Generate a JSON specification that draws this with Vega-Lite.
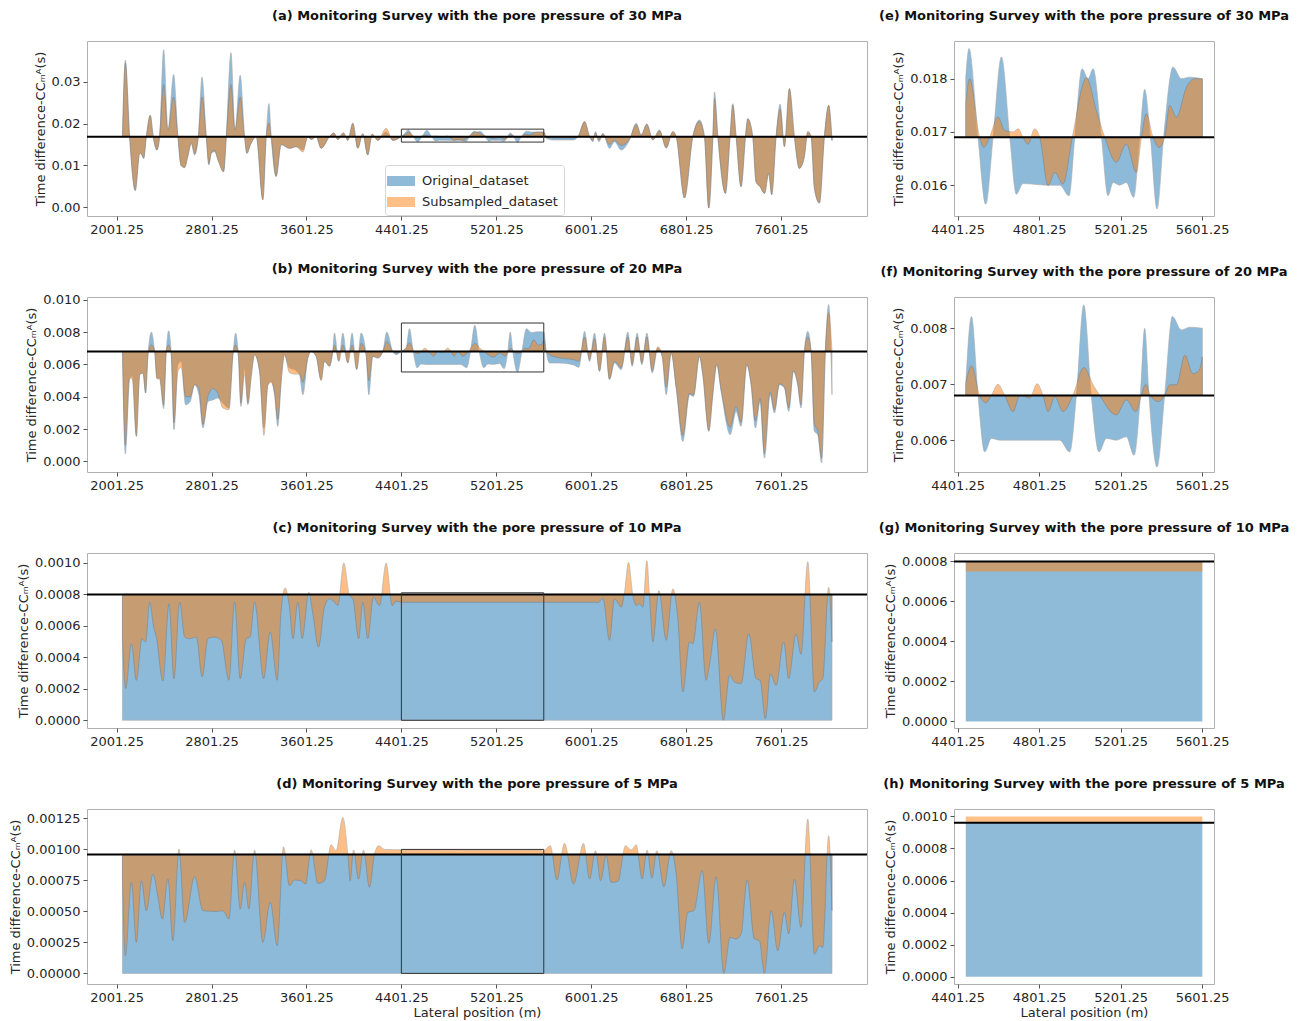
{
"$schema":"https://vega.github.io/schema/vega-lite/v6.json",
"background":"white",
"padding":{"left":8,"top":9,"right":5,"bottom":5},
"config":{
 "font":"DejaVu Sans",
 "view":{"stroke":"#b0b0b0","strokeWidth":1},
 "axis":{"domain":false,"grid":false,"tickColor":"#555","tickSize":4,"labelFontSize":13,"labelColor":"#262626","titleFontSize":13,"titleFontWeight":"normal","titleColor":"#262626","labelPadding":3,"labelFlush":false,"labelOverlap":false,"tickCount":12},
 "title":{"fontSize":13,"fontWeight":"bold","color":"#111","frame":"group","anchor":"middle","offset":18},
 "legend":{"labelFont":"DejaVu Sans"}
},
"datasets":{
"ao":[{"x":2051,"v":0.0169},{"x":2075,"v":0.0352},{"x":2111,"v":0.0169},{"x":2159,"v":0.004},{"x":2196,"v":0.0129},{"x":2215,"v":0.0125},{"x":2229,"v":0.0117},{"x":2252,"v":0.0169},{"x":2285,"v":0.022},{"x":2310,"v":0.0169},{"x":2341,"v":0.0137},{"x":2364,"v":0.0169},{"x":2398,"v":0.0377},{"x":2434,"v":0.0185},{"x":2482,"v":0.0318},{"x":2518,"v":0.0169},{"x":2545,"v":0.01},{"x":2575,"v":0.0095},{"x":2600,"v":0.012},{"x":2631,"v":0.0153},{"x":2659,"v":0.0125},{"x":2690,"v":0.0169},{"x":2721,"v":0.0312},{"x":2757,"v":0.0169},{"x":2779,"v":0.0101},{"x":2800,"v":0.013},{"x":2827,"v":0.0133},{"x":2860,"v":0.011},{"x":2903,"v":0.0085},{"x":2926,"v":0.0169},{"x":2965,"v":0.037},{"x":2999,"v":0.0185},{"x":3043,"v":0.0316},{"x":3080,"v":0.0169},{"x":3099,"v":0.0129},{"x":3130,"v":0.015},{"x":3150,"v":0.0161},{"x":3178,"v":0.0169},{"x":3234,"v":0.0018},{"x":3262,"v":0.0169},{"x":3285,"v":0.0248},{"x":3304,"v":0.0169},{"x":3346,"v":0.0073},{"x":3388,"v":0.015},{"x":3458,"v":0.0141},{"x":3515,"v":0.0145},{"x":3571,"v":0.0137},{"x":3613,"v":0.0169},{"x":3641,"v":0.0162},{"x":3683,"v":0.0169},{"x":3725,"v":0.0141},{"x":3795,"v":0.0169},{"x":3832,"v":0.0178},{"x":3866,"v":0.0162},{"x":3913,"v":0.0178},{"x":3950,"v":0.016},{"x":3992,"v":0.0201},{"x":4034,"v":0.0141},{"x":4076,"v":0.0176},{"x":4118,"v":0.0125},{"x":4155,"v":0.0175},{"x":4203,"v":0.016},{"x":4273,"v":0.018},{"x":4329,"v":0.016},{"x":4399,"v":0.0169},
{"x":4441,"v":0.018},{"x":4457,"v":0.01857},{"x":4501,"v":0.0169},{"x":4539,"v":0.01564},{"x":4575,"v":0.0169},{"x":4616,"v":0.01841},{"x":4657,"v":0.0169},{"x":4689,"v":0.01583},{"x":4722,"v":0.01603},{"x":4837,"v":0.016},{"x":4902,"v":0.016},{"x":4948,"v":0.0158},{"x":4976,"v":0.0169},{"x":5012,"v":0.01819},{"x":5041,"v":0.018},{"x":5066,"v":0.01819},{"x":5107,"v":0.0169},{"x":5139,"v":0.0158},{"x":5164,"v":0.01605},{"x":5196,"v":0.016},{"x":5229,"v":0.01605},{"x":5265,"v":0.01577},{"x":5295,"v":0.0169},{"x":5319,"v":0.0178},{"x":5347,"v":0.0169},{"x":5380,"v":0.01555},{"x":5412,"v":0.0169},{"x":5458,"v":0.01822},{"x":5499,"v":0.018},{"x":5540,"v":0.01803},{"x":5602,"v":0.018},
{"x":5622,"v":0.0165},{"x":5678,"v":0.0161},{"x":5734,"v":0.0161},{"x":5847,"v":0.0161},{"x":5889,"v":0.0169},{"x":5945,"v":0.0205},{"x":5987,"v":0.0169},{"x":6015,"v":0.0157},{"x":6037,"v":0.0181},{"x":6066,"v":0.0157},{"x":6099,"v":0.0177},{"x":6155,"v":0.0141},{"x":6197,"v":0.0157},{"x":6253,"v":0.0137},{"x":6324,"v":0.0161},{"x":6380,"v":0.0201},{"x":6422,"v":0.0173},{"x":6470,"v":0.0199},{"x":6520,"v":0.0161},{"x":6576,"v":0.0185},{"x":6633,"v":0.0141},{"x":6689,"v":0.0181},{"x":6717,"v":0.0169},{"x":6787,"v":0.0022},{"x":6857,"v":0.0169},{"x":6913,"v":0.0209},{"x":6955,"v":0.0169},{"x":6992,"v":-0.0002},{"x":7026,"v":0.0169},{"x":7040,"v":0.0276},{"x":7068,"v":0.0169},{"x":7132,"v":0.0033},{"x":7171,"v":0.0169},{"x":7194,"v":0.0248},{"x":7222,"v":0.0169},{"x":7264,"v":0.0049},{"x":7301,"v":0.0169},{"x":7320,"v":0.0212},{"x":7362,"v":0.0169},{"x":7390,"v":0.0061},{"x":7424,"v":0.0049},{"x":7461,"v":0.0033},{"x":7497,"v":0.0081},{"x":7522,"v":0.003},{"x":7559,"v":0.0169},{"x":7593,"v":0.0247},{"x":7629,"v":0.0145},{"x":7671,"v":0.0284},{"x":7713,"v":0.0169},{"x":7755,"v":0.0093},{"x":7797,"v":0.0121},{"x":7826,"v":0.0181},{"x":7854,"v":0.0169},{"x":7882,"v":0.0045},{"x":7924,"v":0.001},{"x":7966,"v":0.0169},{"x":8002,"v":0.0244},{"x":8030,"v":0.016}],
"as":[{"x":2051,"v":0.0169},{"x":2075,"v":0.0345},{"x":2111,"v":0.0169},{"x":2159,"v":0.004},{"x":2196,"v":0.0129},{"x":2215,"v":0.0125},{"x":2229,"v":0.0117},{"x":2252,"v":0.0169},{"x":2285,"v":0.022},{"x":2310,"v":0.0169},{"x":2341,"v":0.0137},{"x":2364,"v":0.0169},{"x":2398,"v":0.0294},{"x":2434,"v":0.0185},{"x":2482,"v":0.0264},{"x":2518,"v":0.0169},{"x":2545,"v":0.01},{"x":2575,"v":0.0095},{"x":2600,"v":0.012},{"x":2631,"v":0.0153},{"x":2659,"v":0.0128},{"x":2690,"v":0.0169},{"x":2721,"v":0.0264},{"x":2757,"v":0.0169},{"x":2779,"v":0.0104},{"x":2800,"v":0.013},{"x":2827,"v":0.0136},{"x":2860,"v":0.011},{"x":2903,"v":0.0085},{"x":2926,"v":0.0169},{"x":2965,"v":0.0294},{"x":2999,"v":0.0185},{"x":3043,"v":0.0264},{"x":3080,"v":0.0169},{"x":3099,"v":0.0129},{"x":3130,"v":0.015},{"x":3150,"v":0.0161},{"x":3178,"v":0.0169},{"x":3234,"v":0.0018},{"x":3262,"v":0.0169},{"x":3285,"v":0.0201},{"x":3304,"v":0.0169},{"x":3346,"v":0.0075},{"x":3388,"v":0.015},{"x":3458,"v":0.0141},{"x":3515,"v":0.0145},{"x":3571,"v":0.0132},{"x":3613,"v":0.0169},{"x":3641,"v":0.0162},{"x":3683,"v":0.0169},{"x":3725,"v":0.0141},{"x":3795,"v":0.0169},{"x":3832,"v":0.0178},{"x":3866,"v":0.0162},{"x":3913,"v":0.0178},{"x":3950,"v":0.016},{"x":3992,"v":0.0201},{"x":4034,"v":0.0141},{"x":4076,"v":0.0176},{"x":4118,"v":0.0125},{"x":4155,"v":0.0175},{"x":4203,"v":0.016},{"x":4273,"v":0.0189},{"x":4329,"v":0.016},{"x":4399,"v":0.0169},
{"x":4441,"v":0.01753},{"x":4460,"v":0.018},{"x":4509,"v":0.0169},{"x":4529,"v":0.01671},{"x":4558,"v":0.0169},{"x":4599,"v":0.01728},{"x":4632,"v":0.01703},{"x":4673,"v":0.017},{"x":4698,"v":0.01706},{"x":4722,"v":0.0169},{"x":4747,"v":0.01677},{"x":4779,"v":0.01706},{"x":4804,"v":0.0169},{"x":4845,"v":0.01599},{"x":4878,"v":0.01624},{"x":4918,"v":0.01602},{"x":4964,"v":0.0169},{"x":5033,"v":0.01802},{"x":5082,"v":0.0174},{"x":5123,"v":0.0169},{"x":5180,"v":0.01643},{"x":5229,"v":0.01677},{"x":5278,"v":0.01624},{"x":5303,"v":0.0169},{"x":5327,"v":0.01734},{"x":5360,"v":0.0169},{"x":5390,"v":0.01671},{"x":5417,"v":0.0169},{"x":5442,"v":0.0175},{"x":5475,"v":0.01728},{"x":5524,"v":0.01784},{"x":5565,"v":0.018},{"x":5602,"v":0.018},
{"x":5622,"v":0.0168},{"x":5678,"v":0.0166},{"x":5734,"v":0.0166},{"x":5847,"v":0.0166},{"x":5889,"v":0.0169},{"x":5945,"v":0.0205},{"x":5987,"v":0.0169},{"x":6015,"v":0.016},{"x":6037,"v":0.0178},{"x":6066,"v":0.016},{"x":6099,"v":0.0175},{"x":6155,"v":0.015},{"x":6197,"v":0.016},{"x":6253,"v":0.0148},{"x":6324,"v":0.0163},{"x":6380,"v":0.0198},{"x":6422,"v":0.0173},{"x":6470,"v":0.0199},{"x":6520,"v":0.0161},{"x":6576,"v":0.0183},{"x":6633,"v":0.0143},{"x":6689,"v":0.0181},{"x":6717,"v":0.0169},{"x":6787,"v":0.0022},{"x":6857,"v":0.0169},{"x":6913,"v":0.0205},{"x":6955,"v":0.0169},{"x":6992,"v":-0.0002},{"x":7026,"v":0.0169},{"x":7040,"v":0.026},{"x":7068,"v":0.0169},{"x":7132,"v":0.0033},{"x":7171,"v":0.0169},{"x":7194,"v":0.0245},{"x":7222,"v":0.0169},{"x":7264,"v":0.0049},{"x":7301,"v":0.0169},{"x":7320,"v":0.0212},{"x":7362,"v":0.0169},{"x":7390,"v":0.0061},{"x":7424,"v":0.0049},{"x":7461,"v":0.0033},{"x":7497,"v":0.0081},{"x":7522,"v":0.003},{"x":7559,"v":0.0169},{"x":7593,"v":0.0235},{"x":7629,"v":0.0145},{"x":7671,"v":0.0284},{"x":7713,"v":0.0169},{"x":7755,"v":0.0093},{"x":7797,"v":0.0121},{"x":7826,"v":0.0181},{"x":7854,"v":0.0169},{"x":7882,"v":0.0045},{"x":7924,"v":0.001},{"x":7966,"v":0.0169},{"x":8002,"v":0.0244},{"x":8030,"v":0.016}],
"eo":[{"x":4441,"v":0.018},{"x":4457,"v":0.01857},{"x":4501,"v":0.0169},{"x":4539,"v":0.01564},{"x":4575,"v":0.0169},{"x":4616,"v":0.01841},{"x":4657,"v":0.0169},{"x":4689,"v":0.01583},{"x":4722,"v":0.01603},{"x":4837,"v":0.016},{"x":4902,"v":0.016},{"x":4948,"v":0.0158},{"x":4976,"v":0.0169},{"x":5012,"v":0.01819},{"x":5041,"v":0.018},{"x":5066,"v":0.01819},{"x":5107,"v":0.0169},{"x":5139,"v":0.0158},{"x":5164,"v":0.01605},{"x":5196,"v":0.016},{"x":5229,"v":0.01605},{"x":5265,"v":0.01577},{"x":5295,"v":0.0169},{"x":5319,"v":0.0178},{"x":5347,"v":0.0169},{"x":5380,"v":0.01555},{"x":5412,"v":0.0169},{"x":5458,"v":0.01822},{"x":5499,"v":0.018},{"x":5540,"v":0.01803},{"x":5602,"v":0.018}],
"es":[{"x":4441,"v":0.01753},{"x":4460,"v":0.018},{"x":4509,"v":0.0169},{"x":4529,"v":0.01671},{"x":4558,"v":0.0169},{"x":4599,"v":0.01728},{"x":4632,"v":0.01703},{"x":4673,"v":0.017},{"x":4698,"v":0.01706},{"x":4722,"v":0.0169},{"x":4747,"v":0.01677},{"x":4779,"v":0.01706},{"x":4804,"v":0.0169},{"x":4845,"v":0.01599},{"x":4878,"v":0.01624},{"x":4918,"v":0.01602},{"x":4964,"v":0.0169},{"x":5033,"v":0.01802},{"x":5082,"v":0.0174},{"x":5123,"v":0.0169},{"x":5180,"v":0.01643},{"x":5229,"v":0.01677},{"x":5278,"v":0.01624},{"x":5303,"v":0.0169},{"x":5327,"v":0.01734},{"x":5360,"v":0.0169},{"x":5390,"v":0.01671},{"x":5417,"v":0.0169},{"x":5442,"v":0.0175},{"x":5475,"v":0.01728},{"x":5524,"v":0.01784},{"x":5565,"v":0.018},{"x":5602,"v":0.018}],
"bo":[{"x":2051,"v":0.0068},{"x":2075,"v":0.00045},{"x":2111,"v":0.00515},{"x":2134,"v":0.00526},{"x":2168,"v":0.00155},{"x":2196,"v":0.00536},{"x":2224,"v":0.00546},{"x":2246,"v":0.00423},{"x":2266,"v":0.0066},{"x":2294,"v":0.008},{"x":2322,"v":0.0068},{"x":2342,"v":0.00515},{"x":2364,"v":0.00515},{"x":2398,"v":0.00326},{"x":2420,"v":0.0068},{"x":2440,"v":0.00808},{"x":2462,"v":0.0066},{"x":2485,"v":0.00196},{"x":2518,"v":0.00598},{"x":2546,"v":0.00619},{"x":2583,"v":0.0035},{"x":2622,"v":0.00371},{"x":2659,"v":0.00474},{"x":2695,"v":0.00412},{"x":2729,"v":0.00206},{"x":2771,"v":0.00371},{"x":2813,"v":0.0038},{"x":2855,"v":0.00392},{"x":2897,"v":0.0036},{"x":2948,"v":0.0033},{"x":2982,"v":0.0066},{"x":3004,"v":0.00794},{"x":3027,"v":0.0066},{"x":3049,"v":0.0034},{"x":3080,"v":0.00577},{"x":3108,"v":0.0035},{"x":3136,"v":0.00536},{"x":3164,"v":0.0066},{"x":3206,"v":0.00557},{"x":3243,"v":0.00206},{"x":3276,"v":0.00474},{"x":3304,"v":0.00495},{"x":3332,"v":0.00412},{"x":3360,"v":0.00216},{"x":3388,"v":0.00495},{"x":3416,"v":0.0066},{"x":3458,"v":0.00577},{"x":3501,"v":0.00567},{"x":3543,"v":0.00536},{"x":3571,"v":0.00412},{"x":3613,"v":0.00639},{"x":3641,"v":0.0068},{"x":3683,"v":0.00649},{"x":3725,"v":0.00505},{"x":3753,"v":0.00619},{"x":3795,"v":0.00588},{"x":3823,"v":0.0068},{"x":3837,"v":0.00794},{"x":3874,"v":0.00619},{"x":3908,"v":0.00794},{"x":3950,"v":0.00608},{"x":3986,"v":0.00794},{"x":4025,"v":0.00567},{"x":4062,"v":0.00794},{"x":4104,"v":0.0066},{"x":4127,"v":0.00412},{"x":4160,"v":0.00649},{"x":4203,"v":0.00639},{"x":4245,"v":0.0068},{"x":4278,"v":0.008},{"x":4329,"v":0.0068},{"x":4357,"v":0.0066},{"x":4399,"v":0.0068},
{"x":4441,"v":0.00701},{"x":4469,"v":0.00821},{"x":4501,"v":0.0068},{"x":4534,"v":0.00579},{"x":4567,"v":0.00603},{"x":4608,"v":0.006},{"x":4902,"v":0.006},{"x":4951,"v":0.00579},{"x":4984,"v":0.0068},{"x":5020,"v":0.00842},{"x":5057,"v":0.0068},{"x":5095,"v":0.00579},{"x":5131,"v":0.00603},{"x":5180,"v":0.006},{"x":5229,"v":0.00606},{"x":5267,"v":0.00573},{"x":5298,"v":0.0068},{"x":5319,"v":0.008},{"x":5340,"v":0.0068},{"x":5380,"v":0.00552},{"x":5417,"v":0.0068},{"x":5455,"v":0.00821},{"x":5499,"v":0.00797},{"x":5540,"v":0.00802},{"x":5602,"v":0.008},
{"x":5622,"v":0.0068},{"x":5650,"v":0.00608},{"x":5734,"v":0.00608},{"x":5847,"v":0.00598},{"x":5897,"v":0.00582},{"x":5945,"v":0.00804},{"x":5987,"v":0.00618},{"x":6029,"v":0.00794},{"x":6071,"v":0.00556},{"x":6113,"v":0.00794},{"x":6155,"v":0.00505},{"x":6197,"v":0.00608},{"x":6254,"v":0.00567},{"x":6310,"v":0.008},{"x":6346,"v":0.00587},{"x":6388,"v":0.00794},{"x":6428,"v":0.00598},{"x":6470,"v":0.00794},{"x":6515,"v":0.00546},{"x":6562,"v":0.00701},{"x":6599,"v":0.00649},{"x":6633,"v":0.00412},{"x":6675,"v":0.0067},{"x":6717,"v":0.00454},{"x":6773,"v":0.00123},{"x":6829,"v":0.00412},{"x":6863,"v":0.00402},{"x":6913,"v":0.00649},{"x":6941,"v":0.00536},{"x":6992,"v":0.00185},{"x":7026,"v":0.00412},{"x":7059,"v":0.00598},{"x":7096,"v":0.00433},{"x":7172,"v":0.00165},{"x":7222,"v":0.00309},{"x":7264,"v":0.00216},{"x":7312,"v":0.00598},{"x":7348,"v":0.00474},{"x":7385,"v":0.00206},{"x":7424,"v":0.00371},{"x":7461,"v":0.0002},{"x":7508,"v":0.00412},{"x":7545,"v":0.00299},{"x":7587,"v":0.00474},{"x":7629,"v":0.00454},{"x":7666,"v":0.00309},{"x":7705,"v":0.00556},{"x":7741,"v":0.00474},{"x":7769,"v":0.0033},{"x":7797,"v":0.0068},{"x":7826,"v":0.00804},{"x":7854,"v":0.0068},{"x":7882,"v":0.00185},{"x":7910,"v":0.00165},{"x":7943,"v":-0.0001},{"x":7974,"v":0.0068},{"x":8002,"v":0.0097},{"x":8030,"v":0.00412}],
"bs":[{"x":2051,"v":0.0068},{"x":2075,"v":0.001},{"x":2111,"v":0.00515},{"x":2134,"v":0.0051},{"x":2168,"v":0.00155},{"x":2196,"v":0.00536},{"x":2224,"v":0.00546},{"x":2246,"v":0.00423},{"x":2266,"v":0.0066},{"x":2294,"v":0.0072},{"x":2322,"v":0.0068},{"x":2342,"v":0.0051},{"x":2364,"v":0.0051},{"x":2398,"v":0.0035},{"x":2420,"v":0.0068},{"x":2440,"v":0.0072},{"x":2462,"v":0.0066},{"x":2485,"v":0.0024},{"x":2518,"v":0.00557},{"x":2546,"v":0.0058},{"x":2583,"v":0.004},{"x":2622,"v":0.004},{"x":2659,"v":0.00474},{"x":2695,"v":0.0045},{"x":2729,"v":0.0023},{"x":2771,"v":0.004},{"x":2813,"v":0.0045},{"x":2855,"v":0.0042},{"x":2897,"v":0.0033},{"x":2948,"v":0.0032},{"x":2982,"v":0.0066},{"x":3004,"v":0.0072},{"x":3027,"v":0.0066},{"x":3049,"v":0.0036},{"x":3080,"v":0.0054},{"x":3108,"v":0.0036},{"x":3136,"v":0.0052},{"x":3164,"v":0.0066},{"x":3206,"v":0.0056},{"x":3243,"v":0.0016},{"x":3276,"v":0.0047},{"x":3304,"v":0.0049},{"x":3332,"v":0.0043},{"x":3360,"v":0.0026},{"x":3388,"v":0.0049},{"x":3416,"v":0.0066},{"x":3458,"v":0.0055},{"x":3501,"v":0.0054},{"x":3543,"v":0.0054},{"x":3571,"v":0.0049},{"x":3613,"v":0.0064},{"x":3641,"v":0.0068},{"x":3683,"v":0.0065},{"x":3725,"v":0.005},{"x":3753,"v":0.0062},{"x":3795,"v":0.0059},{"x":3823,"v":0.0068},{"x":3837,"v":0.0072},{"x":3874,"v":0.0062},{"x":3908,"v":0.0072},{"x":3950,"v":0.0061},{"x":3986,"v":0.0072},{"x":4025,"v":0.0057},{"x":4062,"v":0.0073},{"x":4104,"v":0.0066},{"x":4127,"v":0.005},{"x":4160,"v":0.0065},{"x":4203,"v":0.0064},{"x":4245,"v":0.0068},{"x":4278,"v":0.0074},{"x":4329,"v":0.0068},{"x":4357,"v":0.0067},{"x":4399,"v":0.0068},
{"x":4441,"v":0.00701},{"x":4469,"v":0.00733},{"x":4509,"v":0.0068},{"x":4539,"v":0.00667},{"x":4567,"v":0.0068},{"x":4599,"v":0.007},{"x":4632,"v":0.0068},{"x":4673,"v":0.00651},{"x":4706,"v":0.0068},{"x":4730,"v":0.00678},{"x":4755,"v":0.00675},{"x":4791,"v":0.00701},{"x":4820,"v":0.0068},{"x":4845,"v":0.00651},{"x":4878,"v":0.00678},{"x":4918,"v":0.00651},{"x":4967,"v":0.0068},{"x":5020,"v":0.0073},{"x":5066,"v":0.00699},{"x":5098,"v":0.0068},{"x":5180,"v":0.00645},{"x":5229,"v":0.00672},{"x":5275,"v":0.00651},{"x":5303,"v":0.0068},{"x":5324,"v":0.007},{"x":5347,"v":0.0068},{"x":5385,"v":0.00669},{"x":5417,"v":0.0068},{"x":5442,"v":0.00699},{"x":5475,"v":0.00699},{"x":5516,"v":0.00752},{"x":5556,"v":0.00719},{"x":5586,"v":0.00725},{"x":5602,"v":0.00749},
{"x":5622,"v":0.0068},{"x":5650,"v":0.0066},{"x":5734,"v":0.0064},{"x":5847,"v":0.0063},{"x":5897,"v":0.0062},{"x":5945,"v":0.0077},{"x":5987,"v":0.0063},{"x":6029,"v":0.0076},{"x":6071,"v":0.0056},{"x":6113,"v":0.0077},{"x":6155,"v":0.0051},{"x":6197,"v":0.0062},{"x":6254,"v":0.0058},{"x":6310,"v":0.0077},{"x":6346,"v":0.006},{"x":6388,"v":0.0077},{"x":6428,"v":0.0061},{"x":6470,"v":0.0077},{"x":6515,"v":0.0056},{"x":6562,"v":0.0071},{"x":6599,"v":0.0065},{"x":6633,"v":0.0046},{"x":6675,"v":0.0067},{"x":6717,"v":0.0046},{"x":6773,"v":0.0016},{"x":6829,"v":0.0042},{"x":6863,"v":0.0041},{"x":6913,"v":0.0065},{"x":6941,"v":0.0054},{"x":6992,"v":0.0019},{"x":7026,"v":0.0042},{"x":7059,"v":0.006},{"x":7096,"v":0.0044},{"x":7172,"v":0.0021},{"x":7222,"v":0.0034},{"x":7264,"v":0.0024},{"x":7312,"v":0.006},{"x":7348,"v":0.0048},{"x":7385,"v":0.0025},{"x":7424,"v":0.0039},{"x":7461,"v":0.0005},{"x":7508,"v":0.0043},{"x":7545,"v":0.0032},{"x":7587,"v":0.0048},{"x":7629,"v":0.0046},{"x":7666,"v":0.0033},{"x":7705,"v":0.0056},{"x":7741,"v":0.0048},{"x":7769,"v":0.0035},{"x":7797,"v":0.0068},{"x":7826,"v":0.0077},{"x":7854,"v":0.0068},{"x":7882,"v":0.0023},{"x":7910,"v":0.0019},{"x":7943,"v":0.0002},{"x":7974,"v":0.0068},{"x":8002,"v":0.0092},{"x":8030,"v":0.0068}],
"fo":[{"x":4441,"v":0.00701},{"x":4469,"v":0.00821},{"x":4501,"v":0.0068},{"x":4534,"v":0.00579},{"x":4567,"v":0.00603},{"x":4608,"v":0.006},{"x":4902,"v":0.006},{"x":4951,"v":0.00579},{"x":4984,"v":0.0068},{"x":5020,"v":0.00842},{"x":5057,"v":0.0068},{"x":5095,"v":0.00579},{"x":5131,"v":0.00603},{"x":5180,"v":0.006},{"x":5229,"v":0.00606},{"x":5267,"v":0.00573},{"x":5298,"v":0.0068},{"x":5319,"v":0.008},{"x":5340,"v":0.0068},{"x":5380,"v":0.00552},{"x":5417,"v":0.0068},{"x":5455,"v":0.00821},{"x":5499,"v":0.00797},{"x":5540,"v":0.00802},{"x":5602,"v":0.008}],
"fs":[{"x":4441,"v":0.00701},{"x":4469,"v":0.00733},{"x":4509,"v":0.0068},{"x":4539,"v":0.00667},{"x":4567,"v":0.0068},{"x":4599,"v":0.007},{"x":4632,"v":0.0068},{"x":4673,"v":0.00651},{"x":4706,"v":0.0068},{"x":4730,"v":0.00678},{"x":4755,"v":0.00675},{"x":4791,"v":0.00701},{"x":4820,"v":0.0068},{"x":4845,"v":0.00651},{"x":4878,"v":0.00678},{"x":4918,"v":0.00651},{"x":4967,"v":0.0068},{"x":5020,"v":0.0073},{"x":5066,"v":0.00699},{"x":5098,"v":0.0068},{"x":5180,"v":0.00645},{"x":5229,"v":0.00672},{"x":5275,"v":0.00651},{"x":5303,"v":0.0068},{"x":5324,"v":0.007},{"x":5347,"v":0.0068},{"x":5385,"v":0.00669},{"x":5417,"v":0.0068},{"x":5442,"v":0.00699},{"x":5475,"v":0.00699},{"x":5516,"v":0.00752},{"x":5556,"v":0.00719},{"x":5586,"v":0.00725},{"x":5602,"v":0.00749}],
"co":[{"x":2051,"v":0},{"x":8030,"v":0}],
"cs":[{"x":2051,"v":0.000507},{"x":2078,"v":0.000201},{"x":2126,"v":0.000486},{"x":2168,"v":0.000254},{"x":2215,"v":0.000518},{"x":2246,"v":0.000497},{"x":2280,"v":0.000751},{"x":2314,"v":0.000592},{"x":2336,"v":0.000529},{"x":2392,"v":0.000249},{"x":2443,"v":0.00074},{"x":2485,"v":0.000264},{"x":2533,"v":0.000751},{"x":2575,"v":0.000529},{"x":2617,"v":0.000518},{"x":2673,"v":0.000529},{"x":2723,"v":0.000275},{"x":2771,"v":0.000518},{"x":2827,"v":0.000529},{"x":2884,"v":0.000507},{"x":2948,"v":0.000254},{"x":2996,"v":0.000751},{"x":3043,"v":0.000264},{"x":3094,"v":0.000518},{"x":3127,"v":0.000529},{"x":3164,"v":0.000751},{"x":3240,"v":0.000264},{"x":3296,"v":0.00056},{"x":3355,"v":0.000254},{"x":3388,"v":0.000698},{"x":3422,"v":0.000841},{"x":3458,"v":0.000719},{"x":3487,"v":0.000518},{"x":3529,"v":0.000751},{"x":3565,"v":0.000518},{"x":3621,"v":0.000814},{"x":3655,"v":0.000677},{"x":3703,"v":0.000465},{"x":3753,"v":0.000719},{"x":3795,"v":0.000772},{"x":3837,"v":0.000751},{"x":3866,"v":0.000729},{"x":3916,"v":0.001},{"x":3964,"v":0.000793},{"x":3992,"v":0.000772},{"x":4042,"v":0.000518},{"x":4076,"v":0.000751},{"x":4118,"v":0.000518},{"x":4166,"v":0.000782},{"x":4217,"v":0.000729},{"x":4273,"v":0.001},{"x":4324,"v":0.000729},{"x":4357,"v":0.000757},{"x":4399,"v":0.00075},{"x":6043,"v":0.00075},{"x":6057,"v":0.000746},{"x":6099,"v":0.000775},{"x":6155,"v":0.000508},{"x":6197,"v":0.000771},{"x":6254,"v":0.000719},{"x":6282,"v":0.000814},{"x":6315,"v":0.001004},{"x":6352,"v":0.000793},{"x":6380,"v":0.000729},{"x":6408,"v":0.00074},{"x":6436,"v":0.000719},{"x":6470,"v":0.001014},{"x":6492,"v":0.000793},{"x":6520,"v":0.000497},{"x":6571,"v":0.000824},{"x":6633,"v":0.000508},{"x":6689,"v":0.000835},{"x":6731,"v":0.000645},{"x":6773,"v":0.00018},{"x":6829,"v":0.000497},{"x":6857,"v":0.000486},{"x":6913,"v":0.00075},{"x":6969,"v":0.000254},{"x":6997,"v":0.000349},{"x":7048,"v":0.00058},{"x":7115,"v":0.0},{"x":7166,"v":0.000286},{"x":7208,"v":0.000244},{"x":7264,"v":0.000233},{"x":7329,"v":0.000549},{"x":7390,"v":0.000265},{"x":7424,"v":0.000254},{"x":7469,"v":0.00001},{"x":7511,"v":0.000296},{"x":7559,"v":0.000222},{"x":7623,"v":0.000497},{"x":7665,"v":0.000265},{"x":7727,"v":0.000549},{"x":7769,"v":0.00042},{"x":7826,"v":0.001008},{"x":7882,"v":0.00018},{"x":7924,"v":0.000244},{"x":7952,"v":0.000265},{"x":8002,"v":0.000845},{"x":8030,"v":0.000497}],
"do":[{"x":2051,"v":0},{"x":8030,"v":0}],
"ds":[{"x":2051,"v":0.000747},{"x":2075,"v":0.000142},{"x":2126,"v":0.000734},{"x":2168,"v":0.00025},{"x":2210,"v":0.000747},{"x":2252,"v":0.000505},{"x":2308,"v":0.000801},{"x":2350,"v":0.000613},{"x":2387,"v":0.000438},{"x":2434,"v":0.000761},{"x":2476,"v":0.000263},{"x":2527,"v":0.001003},{"x":2575,"v":0.000411},{"x":2659,"v":0.00078},{"x":2729,"v":0.000505},{"x":2841,"v":0.0005},{"x":2897,"v":0.000505},{"x":2948,"v":0.000438},{"x":2996,"v":0.000995},{"x":3043,"v":0.000519},{"x":3080,"v":0.000734},{"x":3116,"v":0.000519},{"x":3164,"v":0.000995},{"x":3234,"v":0.00025},{"x":3296,"v":0.000573},{"x":3355,"v":0.000223},{"x":3408,"v":0.001022},{"x":3458,"v":0.000707},{"x":3501,"v":0.000753},{"x":3557,"v":0.000747},{"x":3593,"v":0.00072},{"x":3641,"v":0.000997},{"x":3697,"v":0.000726},{"x":3753,"v":0.000747},{"x":3809,"v":0.001038},{"x":3851,"v":0.000989},{"x":3908,"v":0.001258},{"x":3950,"v":0.000962},{"x":3970,"v":0.000747},{"x":3998,"v":0.000995},{"x":4040,"v":0.000761},{"x":4082,"v":0.000995},{"x":4132,"v":0.000694},{"x":4175,"v":0.000962},{"x":4211,"v":0.00103},{"x":4259,"v":0.001},{"x":4399,"v":0.000997},{"x":5580,"v":0.000995},{"x":5594,"v":0.000984},{"x":5656,"v":0.00103},{"x":5712,"v":0.000753},{"x":5776,"v":0.001049},{"x":5852,"v":0.000721},{"x":5936,"v":0.001049},{"x":5987,"v":0.000761},{"x":6037,"v":0.00099},{"x":6080,"v":0.000748},{"x":6127,"v":0.000949},{"x":6169,"v":0.000734},{"x":6226,"v":0.000742},{"x":6290,"v":0.00103},{"x":6338,"v":0.000995},{"x":6380,"v":0.001038},{"x":6430,"v":0.000761},{"x":6472,"v":0.000995},{"x":6512,"v":0.000769},{"x":6554,"v":0.00099},{"x":6613,"v":0.000699},{"x":6675,"v":0.00099},{"x":6717,"v":0.000801},{"x":6767,"v":0.000197},{"x":6815,"v":0.000492},{"x":6866,"v":0.000506},{"x":6936,"v":0.000828},{"x":6992,"v":0.000242},{"x":7054,"v":0.00078},{"x":7118,"v":0.0},{"x":7171,"v":0.00029},{"x":7222,"v":0.000277},{"x":7264,"v":0.000318},{"x":7315,"v":0.000753},{"x":7376,"v":0.000277},{"x":7418,"v":0.000264},{"x":7461,"v":0.0},{"x":7517,"v":0.000506},{"x":7573,"v":0.000183},{"x":7629,"v":0.000492},{"x":7665,"v":0.000318},{"x":7713,"v":0.000761},{"x":7769,"v":0.000371},{"x":7826,"v":0.001245},{"x":7882,"v":0.000156},{"x":7924,"v":0.000223},{"x":7952,"v":0.00021},{"x":8002,"v":0.00111},{"x":8030,"v":0.000506}],
"go":[{"x":4441,"v":0},{"x":5602,"v":0}],
"gs":[{"x":4441,"v":0.00075},{"x":5602,"v":0.00075}],
"ho":[{"x":4441,"v":0},{"x":5602,"v":0}],
"hs":[{"x":4441,"v":0.001},{"x":5602,"v":0.001}]
},
"spacing":9,
"resolve":{"legend":{"color":"independent"}},
"hconcat":[
{"spacing":81,"bounds":"flush","resolve":{"legend":{"color":"independent"}},"vconcat":[
 {"width":780,"height":175,"title":"(a) Monitoring Survey with the pore pressure of 30 MPa","layer":[
  {"data":{"name":"ao"},"mark":{"type":"area","interpolate":"monotone","opacity":0.5,"stroke":"#555","strokeWidth":0.6,"clip":true},
   "encoding":{"x":{"field":"x","type":"quantitative","scale":{"domain":[1752,8325],"nice":false,"zero":false},"axis":{"values":[2001.25,2801.25,3601.25,4401.25,5201.25,6001.25,6801.25,7601.25],"format":".2f","title":null,"labelOverlap":false,"tickCount":30}},
    "y":{"field":"v","type":"quantitative","scale":{"domain":[-0.0021,0.0398],"nice":false,"zero":false},"axis":{"values":[0,0.01,0.02,0.03],"format":".2f","title":"Time difference-CCₘᴬ(s)","labelOverlap":false,"tickCount":12}},
    "y2":{"datum":0.0169},
    "color":{"datum":"Original_dataset","scale":{"domain":["Original_dataset","Subsampled_dataset"],"range":["#1f77b4","#ff7f0e"]},
     "legend":{"orient":"none","legendX":298,"legendY":124,"title":null,"symbolType":"M-1.4,-0.5H1.4V0.5H-1.4Z","symbolSize":400,"symbolOpacity":0.5,"symbolStrokeWidth":0,"labelFontSize":13,"labelColor":"#262626","fillColor":"#ffffff","strokeColor":"#d5d5d5","cornerRadius":3,"padding":6,"rowPadding":4,"labelOffset":11}}}},
  {"data":{"name":"as"},"mark":{"type":"area","interpolate":"monotone","opacity":0.5,"stroke":"#555","strokeWidth":0.6,"clip":true},
   "encoding":{"x":{"field":"x","type":"quantitative"},"y":{"field":"v","type":"quantitative"},"y2":{"datum":0.0169},"color":{"datum":"Subsampled_dataset"}}},
  {"data":{"values":[{"v":0.0169}]},"mark":{"type":"rule","color":"#000","strokeWidth":2},"encoding":{"y":{"field":"v","type":"quantitative"}}},
  {"data":{"values":[{"x":4401.25,"xe":5601.25,"v":0.0156,"ve":0.0187}]},"mark":{"type":"rect","filled":false,"stroke":"#333","strokeWidth":1},"encoding":{"x":{"field":"x","type":"quantitative"},"x2":{"field":"xe"},"y":{"field":"v","type":"quantitative"},"y2":{"field":"ve"}}}
 ]},
 {"width":780,"height":175,"title":"(b) Monitoring Survey with the pore pressure of 20 MPa","layer":[
  {"data":{"name":"bo"},"mark":{"type":"area","interpolate":"monotone","opacity":0.5,"stroke":"#555","strokeWidth":0.6,"clip":true},
   "encoding":{"x":{"field":"x","type":"quantitative","scale":{"domain":[1752,8325],"nice":false,"zero":false},"axis":{"values":[2001.25,2801.25,3601.25,4401.25,5201.25,6001.25,6801.25,7601.25],"format":".2f","title":null,"labelOverlap":false,"tickCount":30}},
    "y":{"field":"v","type":"quantitative","scale":{"domain":[-0.00066,0.01017],"nice":false,"zero":false},"axis":{"values":[0,0.002,0.004,0.006,0.008,0.01],"format":".3f","title":"Time difference-CCₘᴬ(s)","labelOverlap":false,"tickCount":12}},
    "y2":{"datum":0.0068},
    "color":{"datum":"Original_dataset","scale":{"domain":["Original_dataset","Subsampled_dataset"],"range":["#1f77b4","#ff7f0e"]},"legend":null}}},
  {"data":{"name":"bs"},"mark":{"type":"area","interpolate":"monotone","opacity":0.5,"stroke":"#555","strokeWidth":0.6,"clip":true},
   "encoding":{"x":{"field":"x","type":"quantitative"},"y":{"field":"v","type":"quantitative"},"y2":{"datum":0.0068},"color":{"datum":"Subsampled_dataset"}}},
  {"data":{"values":[{"v":0.0068}]},"mark":{"type":"rule","color":"#000","strokeWidth":2},"encoding":{"y":{"field":"v","type":"quantitative"}}},
  {"data":{"values":[{"x":4401.25,"xe":5601.25,"v":0.00553,"ve":0.00856}]},"mark":{"type":"rect","filled":false,"stroke":"#333","strokeWidth":1},"encoding":{"x":{"field":"x","type":"quantitative"},"x2":{"field":"xe"},"y":{"field":"v","type":"quantitative"},"y2":{"field":"ve"}}}
 ]},
 {"width":780,"height":175,"title":"(c) Monitoring Survey with the pore pressure of 10 MPa","layer":[
  {"data":{"name":"co"},"mark":{"type":"area","interpolate":"monotone","opacity":0.5,"stroke":"#555","strokeWidth":0.6,"clip":true},
   "encoding":{"x":{"field":"x","type":"quantitative","scale":{"domain":[1752,8325],"nice":false,"zero":false},"axis":{"values":[2001.25,2801.25,3601.25,4401.25,5201.25,6001.25,6801.25,7601.25],"format":".2f","title":null,"labelOverlap":false,"tickCount":30}},
    "y":{"field":"v","type":"quantitative","scale":{"domain":[-0.000049,0.001063],"nice":false,"zero":false},"axis":{"values":[0,0.0002,0.0004,0.0006,0.0008,0.001],"format":".4f","title":"Time difference-CCₘᴬ(s)","labelOverlap":false,"tickCount":12}},
    "y2":{"datum":0.0008},
    "color":{"datum":"Original_dataset","scale":{"domain":["Original_dataset","Subsampled_dataset"],"range":["#1f77b4","#ff7f0e"]},"legend":null}}},
  {"data":{"name":"cs"},"mark":{"type":"area","interpolate":"monotone","opacity":0.5,"stroke":"#555","strokeWidth":0.6,"clip":true},
   "encoding":{"x":{"field":"x","type":"quantitative"},"y":{"field":"v","type":"quantitative"},"y2":{"datum":0.0008},"color":{"datum":"Subsampled_dataset"}}},
  {"data":{"values":[{"v":0.0008}]},"mark":{"type":"rule","color":"#000","strokeWidth":2},"encoding":{"y":{"field":"v","type":"quantitative"}}},
  {"data":{"values":[{"x":4401.25,"xe":5601.25,"v":0,"ve":0.00081}]},"mark":{"type":"rect","filled":false,"stroke":"#333","strokeWidth":1},"encoding":{"x":{"field":"x","type":"quantitative"},"x2":{"field":"xe"},"y":{"field":"v","type":"quantitative"},"y2":{"field":"ve"}}}
 ]},
 {"width":780,"height":175,"title":"(d) Monitoring Survey with the pore pressure of 5 MPa","layer":[
  {"data":{"name":"do"},"mark":{"type":"area","interpolate":"monotone","opacity":0.5,"stroke":"#555","strokeWidth":0.6,"clip":true},
   "encoding":{"x":{"field":"x","type":"quantitative","scale":{"domain":[1752,8325],"nice":false,"zero":false},"axis":{"values":[2001.25,2801.25,3601.25,4401.25,5201.25,6001.25,6801.25,7601.25],"format":".2f","title":"Lateral position (m)","labelOverlap":false,"titlePadding":2,"tickCount":30}},
    "y":{"field":"v","type":"quantitative","scale":{"domain":[-0.0000855,0.001326],"nice":false,"zero":false},"axis":{"values":[0,0.00025,0.0005,0.00075,0.001,0.00125],"format":".5f","title":"Time difference-CCₘᴬ(s)","labelOverlap":false,"tickCount":12}},
    "y2":{"datum":0.00096},
    "color":{"datum":"Original_dataset","scale":{"domain":["Original_dataset","Subsampled_dataset"],"range":["#1f77b4","#ff7f0e"]},"legend":null}}},
  {"data":{"name":"ds"},"mark":{"type":"area","interpolate":"monotone","opacity":0.5,"stroke":"#555","strokeWidth":0.6,"clip":true},
   "encoding":{"x":{"field":"x","type":"quantitative"},"y":{"field":"v","type":"quantitative"},"y2":{"datum":0.00096},"color":{"datum":"Subsampled_dataset"}}},
  {"data":{"values":[{"v":0.00096}]},"mark":{"type":"rule","color":"#000","strokeWidth":2},"encoding":{"y":{"field":"v","type":"quantitative"}}},
  {"data":{"values":[{"x":4401.25,"xe":5601.25,"v":0,"ve":0.001}]},"mark":{"type":"rect","filled":false,"stroke":"#333","strokeWidth":1},"encoding":{"x":{"field":"x","type":"quantitative"},"x2":{"field":"xe"},"y":{"field":"v","type":"quantitative"},"y2":{"field":"ve"}}}
 ]}
]},
{"spacing":81,"bounds":"flush","resolve":{"legend":{"color":"independent"}},"vconcat":[
 {"width":260,"height":175,"title":"(e) Monitoring Survey with the pore pressure of 30 MPa","layer":[
  {"data":{"name":"eo"},"mark":{"type":"area","interpolate":"monotone","opacity":0.5,"stroke":"#555","strokeWidth":0.6,"clip":true},
   "encoding":{"x":{"field":"x","type":"quantitative","scale":{"domain":[4383.25,5659.25],"nice":false,"zero":false},"axis":{"values":[4401.25,4801.25,5201.25,5601.25],"format":".2f","title":null,"labelOverlap":false,"tickCount":12}},
    "y":{"field":"v","type":"quantitative","scale":{"domain":[0.01542,0.01871],"nice":false,"zero":false},"axis":{"values":[0.016,0.017,0.018],"format":".3f","title":"Time difference-CCₘᴬ(s)","labelOverlap":false,"tickCount":12}},
    "y2":{"datum":0.0169},
    "color":{"datum":"Original_dataset","scale":{"domain":["Original_dataset","Subsampled_dataset"],"range":["#1f77b4","#ff7f0e"]},"legend":null}}},
  {"data":{"name":"es"},"mark":{"type":"area","interpolate":"monotone","opacity":0.5,"stroke":"#555","strokeWidth":0.6,"clip":true},
   "encoding":{"x":{"field":"x","type":"quantitative"},"y":{"field":"v","type":"quantitative"},"y2":{"datum":0.0169},"color":{"datum":"Subsampled_dataset"}}},
  {"data":{"values":[{"v":0.0169}]},"mark":{"type":"rule","color":"#000","strokeWidth":2},"encoding":{"y":{"field":"v","type":"quantitative"}}}
 ]},
 {"width":260,"height":175,"title":"(f) Monitoring Survey with the pore pressure of 20 MPa","layer":[
  {"data":{"name":"fo"},"mark":{"type":"area","interpolate":"monotone","opacity":0.5,"stroke":"#555","strokeWidth":0.6,"clip":true},
   "encoding":{"x":{"field":"x","type":"quantitative","scale":{"domain":[4383.25,5659.25],"nice":false,"zero":false},"axis":{"values":[4401.25,4801.25,5201.25,5601.25],"format":".2f","title":null,"labelOverlap":false,"tickCount":12}},
    "y":{"field":"v","type":"quantitative","scale":{"domain":[0.00543,0.00856],"nice":false,"zero":false},"axis":{"values":[0.006,0.007,0.008],"format":".3f","title":"Time difference-CCₘᴬ(s)","labelOverlap":false,"tickCount":12}},
    "y2":{"datum":0.0068},
    "color":{"datum":"Original_dataset","scale":{"domain":["Original_dataset","Subsampled_dataset"],"range":["#1f77b4","#ff7f0e"]},"legend":null}}},
  {"data":{"name":"fs"},"mark":{"type":"area","interpolate":"monotone","opacity":0.5,"stroke":"#555","strokeWidth":0.6,"clip":true},
   "encoding":{"x":{"field":"x","type":"quantitative"},"y":{"field":"v","type":"quantitative"},"y2":{"datum":0.0068},"color":{"datum":"Subsampled_dataset"}}},
  {"data":{"values":[{"v":0.0068}]},"mark":{"type":"rule","color":"#000","strokeWidth":2},"encoding":{"y":{"field":"v","type":"quantitative"}}}
 ]},
 {"width":260,"height":175,"title":"(g) Monitoring Survey with the pore pressure of 10 MPa","layer":[
  {"data":{"name":"go"},"mark":{"type":"area","interpolate":"monotone","opacity":0.5,"clip":true},
   "encoding":{"x":{"field":"x","type":"quantitative","scale":{"domain":[4383.25,5659.25],"nice":false,"zero":false},"axis":{"values":[4401.25,4801.25,5201.25,5601.25],"format":".2f","title":null,"labelOverlap":false,"tickCount":12}},
    "y":{"field":"v","type":"quantitative","scale":{"domain":[-0.000033,0.000842],"nice":false,"zero":false},"axis":{"values":[0,0.0002,0.0004,0.0006,0.0008],"format":".4f","title":"Time difference-CCₘᴬ(s)","labelOverlap":false,"tickCount":12}},
    "y2":{"datum":0.0008},
    "color":{"datum":"Original_dataset","scale":{"domain":["Original_dataset","Subsampled_dataset"],"range":["#1f77b4","#ff7f0e"]},"legend":null}}},
  {"data":{"name":"gs"},"mark":{"type":"area","interpolate":"monotone","opacity":0.5,"clip":true},
   "encoding":{"x":{"field":"x","type":"quantitative"},"y":{"field":"v","type":"quantitative"},"y2":{"datum":0.0008},"color":{"datum":"Subsampled_dataset"}}},
  {"data":{"values":[{"v":0.0008}]},"mark":{"type":"rule","color":"#000","strokeWidth":2},"encoding":{"y":{"field":"v","type":"quantitative"}}}
 ]},
 {"width":260,"height":175,"title":"(h) Monitoring Survey with the pore pressure of 5 MPa","layer":[
  {"data":{"name":"ho"},"mark":{"type":"area","interpolate":"monotone","opacity":0.5,"clip":true},
   "encoding":{"x":{"field":"x","type":"quantitative","scale":{"domain":[4383.25,5659.25],"nice":false,"zero":false},"axis":{"values":[4401.25,4801.25,5201.25,5601.25],"format":".2f","title":"Lateral position (m)","labelOverlap":false,"titlePadding":2,"tickCount":12}},
    "y":{"field":"v","type":"quantitative","scale":{"domain":[-0.0000455,0.001046],"nice":false,"zero":false},"axis":{"values":[0,0.0002,0.0004,0.0006,0.0008,0.001],"format":".4f","title":"Time difference-CCₘᴬ(s)","labelOverlap":false,"tickCount":12}},
    "y2":{"datum":0.00096},
    "color":{"datum":"Original_dataset","scale":{"domain":["Original_dataset","Subsampled_dataset"],"range":["#1f77b4","#ff7f0e"]},"legend":null}}},
  {"data":{"name":"hs"},"mark":{"type":"area","interpolate":"monotone","opacity":0.5,"clip":true},
   "encoding":{"x":{"field":"x","type":"quantitative"},"y":{"field":"v","type":"quantitative"},"y2":{"datum":0.00096},"color":{"datum":"Subsampled_dataset"}}},
  {"data":{"values":[{"v":0.00096}]},"mark":{"type":"rule","color":"#000","strokeWidth":2},"encoding":{"y":{"field":"v","type":"quantitative"}}}
 ]}
]}
]
}
